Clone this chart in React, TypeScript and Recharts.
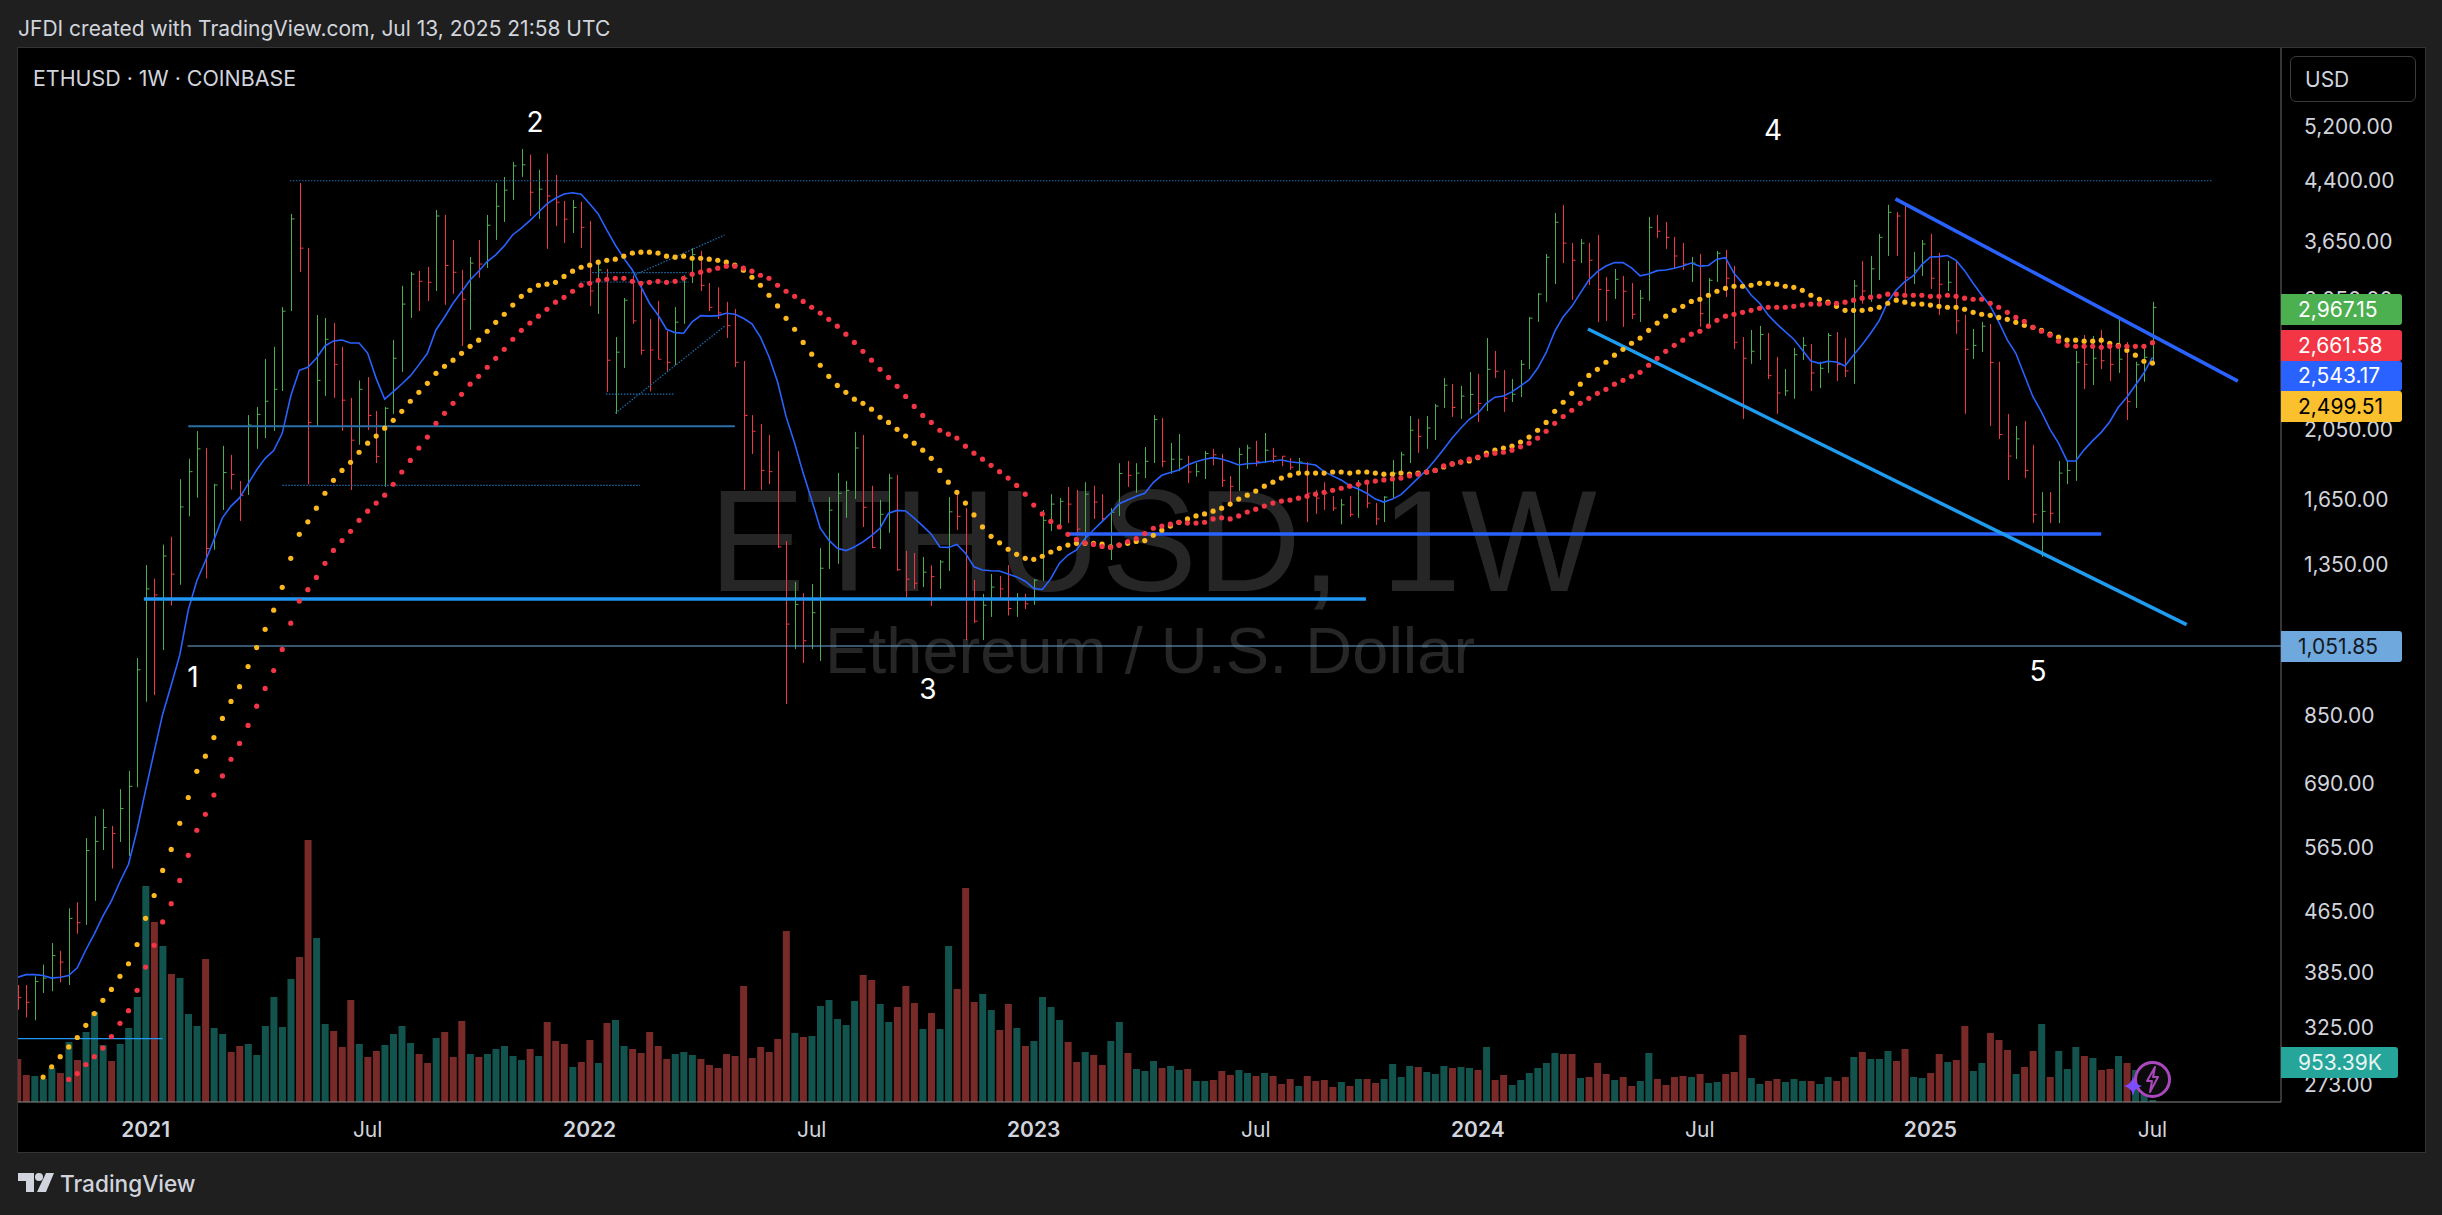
import { Bar, ComposedChart, Line, ReferenceLine, XAxis, YAxis } from "recharts";

const highs = [
  369,369,379,393,420,410,467,476,580,620,
  634,602,674,713,1009,1343,1288,1430,1465,1749,
  1863,2028,1926,1724,1938,1885,1740,2130,2184,2532,
  2628,2970,3955,4350,3563,2898,2872,2828,2628,2246,
  2370,2395,2157,2184,2684,3170,3309,3319,3360,4004,
  3943,3651,3329,3465,3651,3943,4350,4432,4640,4830,
  4745,4529,4760,4460,4117,4130,4105,3871,3433,3340,
  2708,3054,3268,3178,2862,3027,2760,2970,3275,3558,
  3530,3198,3156,3018,2952,2516,2130,2073,2004,1906,
  1446,1275,1232,1267,1415,1655,1783,1740,2023,2004,
  1714,1641,1778,1772,1403,1394,1377,1342,1364,1655,
  1676,1600,1283,1229,1307,1299,1343,1232,1229,1286,
  1591,1670,1651,1708,1692,1733,1714,1670,1600,1837,
  1850,1837,1931,2130,2111,1955,2010,1880,1838,1908,
  1920,1890,1766,1926,1944,1968,2016,1926,1878,1867,
  1867,1844,1692,1733,1660,1646,1660,1745,1733,1626,
  1660,1855,1903,2124,2105,2124,2205,2388,2344,2330,
  2432,2418,2700,2595,2447,2380,2524,2880,3102,3497,
  3967,4067,3617,3662,3617,3707,3258,3340,3268,3198,
  3130,3919,3943,3858,3685,3617,3465,3497,3248,3530,
  3541,3370,2708,2768,2803,2742,2548,2454,2620,2708,
  2650,2510,2742,2750,2700,3228,3422,3476,3720,4067,
  3978,4080,3520,3651,3720,3510,3422,3411,2900,2776,
  2837,2820,2510,2138,2060,2092,1944,1681,1681,1850,
  1855,2595,2725,2717,2768,2660,2862,2667,2510,2620,3018,
];

const lows = [
  342,334,331,360,362,372,369,432,444,478,
  559,528,573,549,678,882,900,1034,1186,1264,
  1560,1652,1289,1408,1591,1694,1538,1666,1920,1985,
  2029,2294,2934,3309,1722,2060,2260,2246,2029,1692,
  1944,2035,1838,1708,2138,2432,2872,2934,3027,3120,
  2990,3093,2635,2768,3250,3350,3651,3859,4130,4432,
  3932,3895,3552,3810,3617,3730,3563,2980,2908,2288,
  2138,2462,2820,2564,2291,2530,2432,2485,2820,3198,
  3120,2934,2862,2700,2470,1692,1890,1692,1722,1415,
  876,1037,994,1037,1000,1327,1348,1553,1646,1510,
  1415,1411,1483,1319,1217,1248,1255,1184,1248,1319,
  1496,1066,1124,1066,1145,1210,1150,1145,1173,1188,
  1279,1491,1505,1528,1478,1450,1548,1533,1364,1562,
  1708,1678,1755,1838,1815,1778,1793,1728,1763,1750,
  1825,1708,1606,1687,1805,1820,1838,1838,1820,1799,
  1789,1533,1572,1591,1586,1522,1558,1553,1601,1519,
  1533,1651,1772,1838,1897,1920,1973,2177,2118,2105,
  2138,2085,2157,2388,2151,2218,2252,2454,2837,3018,
  3188,3400,3036,3400,3178,2837,2846,3045,2795,2862,
  2837,3027,3673,3552,3340,3329,3208,2795,2803,3208,
  3064,2611,2105,2494,2524,2380,2138,2260,2240,2524,
  2294,2315,2425,2366,2395,2345,3000,3018,3228,3476,
  3476,3080,3188,3268,3140,2898,3120,2735,2138,2532,
  2587,2060,1979,1745,1861,1755,1528,1377,1528,1528,
  1722,1740,2308,2337,2454,2366,2425,2098,2177,2360,2505,
];

const closes = [
  355,350,373,377,404,396,453,447,558,574,
  599,588,635,680,973,1248,1225,1381,1306,1606,
  1790,1920,1413,1718,1785,1775,1664,2066,2135,2223,
  2306,2932,3895,3560,2083,2370,2690,2490,2230,1972,
  2306,2128,1876,2175,2537,2997,3286,3215,3205,3930,
  3375,3305,3042,3400,3390,3820,4050,4255,4585,4600,
  4228,4268,4180,4100,3892,4035,3795,3121,3329,2522,
  2585,3033,2846,2600,2603,2530,2506,2835,3245,3490,
  3175,2968,2917,2805,2506,2128,2027,1797,1790,1420,
  1120,1190,1064,1160,1330,1590,1675,1690,1925,1604,
  1418,1570,1755,1324,1286,1270,1314,1296,1356,1582,
  1560,1212,1130,1187,1255,1248,1175,1212,1192,1282,
  1541,1620,1634,1620,1500,1670,1630,1550,1580,1780,
  1770,1782,1848,2102,1848,1860,1860,1788,1790,1893,
  1885,1743,1711,1888,1925,1848,1912,1877,1877,1815,
  1844,1675,1650,1675,1600,1616,1570,1722,1625,1548,
  1655,1782,1885,2033,1995,2047,2190,2335,2181,2258,
  2270,2208,2452,2438,2243,2271,2490,2870,3090,3462,
  3855,3615,3430,3615,3430,3136,3127,3235,3118,2905,
  3052,3795,3750,3680,3475,3390,3400,2910,3225,3505,
  3245,2665,2537,2592,2730,2405,2280,2295,2565,2640,
  2425,2460,2722,2490,2440,3170,3120,3340,3680,3975,
  3930,3255,3326,3605,3245,3186,3205,2846,2608,2640,
  2800,2505,2007,1878,1980,1797,1570,1584,1575,1782,
  1797,2506,2490,2537,2518,2490,2530,2220,2487,2545,2967.15,
];

// U = up week, D = down week, ten weeks per chunk
const directions = [
  "DDUUUDUDUU","UDUUUUDUDU","UUDUUDDUUU","UUUDDUUDDD","UDDUUUUDDU",
  "DDDUDUUUUU","DUDDDUDDUD","UUDDDDDUUU","DDDDDDDDDD","DUDUUUUUUD",
  "DUUDDDUDUU","DDDUUDDUDU","UUUDDUDDUU","DUUUDUUDUU","DDDUUDUDDD",
  "UDDDDUDUDD","UUUUDUUUDU","UDUDDUUUUU","UDDUDDDUDD","UUDDDDUDUU",
  "DDDUUDDUUU","DUUDDUDUUU","DDUUDDUDDU","UDDDUDDUDU","UUDUDDUDUUU",
].join("");

// thousands of ETH
const volumes = [
  1032,648,624,552,816,696,1440,1008,1680,2160,
  1368,984,1392,1776,2520,5184,4320,3744,3072,2976,
  2112,1824,3432,1776,1632,1200,1344,1392,1128,1824,
  2520,1800,2952,3480,6288,3936,1872,1704,1320,2448,
  1392,1080,1224,1368,1632,1824,1416,1152,936,1536,
  1680,1080,1944,1152,1080,1152,1272,1344,1104,1008,
  1272,1104,1920,1464,1392,840,960,1488,936,1896,
  1968,1344,1272,1176,1680,1344,1032,1152,1200,1128,
  1032,888,816,1152,1104,2784,1056,1320,1200,1512,
  4104,1656,1560,1584,2304,2448,1992,1848,2424,3048,
  2928,2352,1920,2280,2784,2376,1752,2136,1752,3744,
  2712,5136,2400,2592,2208,1728,2352,1776,1344,1464,
  2520,2280,1968,1440,960,1200,1128,888,1464,1920,
  1176,792,744,984,816,864,768,792,504,504,
  528,744,648,768,696,624,696,624,432,552,
  384,624,504,528,360,480,384,552,552,456,
  552,912,600,864,840,720,672,864,816,840,
  816,768,1320,528,648,408,528,696,816,936,
  1176,1152,1152,576,600,936,672,528,600,384,
  504,1176,552,408,600,624,600,672,456,480,
  672,720,1608,576,432,504,552,480,552,504,
  504,432,600,504,600,1080,1200,1032,1032,1224,
  984,1272,600,576,696,1152,960,1008,1824,744,
  936,1656,1488,1248,672,840,1224,1872,600,1224,
  792,1320,1104,1056,768,792,1104,936,768,264,48,
];

const blueAverage = [
  378,381,381,380,377,378,380,389,411,432,
  456,478,507,535,594,672,756,849,928,1018,
  1170,1280,1360,1451,1553,1610,1651,1724,1799,1865,
  1910,2014,2259,2445,2468,2537,2635,2676,2684,2659,
  2659,2578,2385,2237,2289,2344,2403,2486,2576,2768,
  2878,3005,3113,3228,3316,3416,3487,3585,3710,3787,
  3875,3975,4080,4150,4205,4222,4202,4080,3955,3765,
  3595,3451,3329,3162,3005,2898,2774,2745,2740,2838,
  2893,2888,2893,2914,2905,2869,2820,2707,2549,2360,
  2120,1954,1782,1641,1504,1450,1414,1404,1420,1442,
  1470,1504,1575,1589,1586,1552,1515,1477,1420,1418,
  1431,1393,1336,1323,1320,1319,1307,1295,1278,1250,
  1246,1288,1350,1385,1407,1457,1496,1535,1575,1622,
  1641,1659,1675,1731,1770,1785,1799,1827,1845,1860,
  1869,1861,1845,1827,1834,1837,1844,1850,1855,1845,
  1840,1834,1827,1790,1767,1745,1714,1697,1675,1645,
  1630,1645,1668,1710,1755,1799,1855,1918,1985,2046,
  2103,2142,2209,2251,2259,2288,2330,2373,2460,2581,
  2754,2883,2974,3100,3228,3312,3370,3405,3405,3350,
  3270,3288,3322,3329,3347,3370,3400,3368,3375,3441,
  3457,3295,3195,3082,3005,2898,2820,2754,2690,2603,
  2516,2498,2514,2508,2478,2563,2644,2740,2848,3018,
  3130,3212,3270,3385,3465,3468,3480,3428,3322,3195,
  3082,2980,2838,2684,2576,2410,2254,2152,2039,1954,
  1850,1850,1914,1969,2020,2087,2182,2251,2335,2425,2543.17,
];

const yellowAverage = [
  null,null,null,278,287,296,305,314,326,338,
  352,364,379,394,418,453,486,525,560,607,
  657,712,746,790,838,883,924,983,1042,1102,
  1169,1254,1371,1476,1534,1600,1675,1743,1797,1842,
  1900,1954,1997,2046,2096,2155,2223,2285,2349,2422,
  2475,2522,2576,2632,2682,2757,2834,2905,2988,3070,
  3127,3176,3186,3205,3263,3316,3357,3378,3410,3430,
  3441,3473,3505,3516,3516,3505,3473,3462,3473,3451,
  3451,3441,3430,3410,3378,3326,3255,3176,3080,2980,
  2869,2774,2664,2569,2483,2400,2334,2285,2237,2209,
  2169,2116,2083,2039,1997,1954,1912,1865,1797,1733,
  1680,1625,1567,1510,1467,1438,1410,1388,1371,1367,
  1380,1398,1414,1428,1436,1436,1436,1432,1420,1428,
  1436,1444,1448,1472,1495,1514,1532,1548,1562,1572,
  1585,1600,1620,1645,1665,1686,1712,1733,1755,1771,
  1782,1782,1782,1782,1788,1788,1782,1788,1788,1782,
  1776,1776,1782,1776,1782,1788,1797,1816,1833,1844,
  1850,1869,1895,1912,1925,1936,1961,1991,2033,2083,
  2155,2216,2278,2343,2407,2452,2506,2561,2608,2657,
  2700,2765,2827,2888,2940,2977,3022,3042,3080,3118,
  3146,3166,3166,3176,3195,3195,3186,3166,3156,3127,
  3080,3042,3015,2977,2940,2940,2940,2950,2968,3005,
  3033,3015,2997,2997,2988,2977,2968,2968,2950,2922,
  2905,2895,2877,2860,2834,2808,2790,2765,2732,2707,
  2682,2682,2674,2674,2682,2657,2640,2600,2561,2514,2499.51,
];

const redAverage = [
  null,null,null,null,null,null,276,281,289,296,
  304,315,328,341,363,390,417,448,474,509,
  550,594,624,662,702,739,776,820,870,919,
  971,1036,1123,1202,1245,1293,1350,1405,1448,1490,
  1541,1585,1625,1665,1722,1788,1853,1925,1991,2077,
  2142,2209,2271,2343,2400,2468,2537,2608,2690,2765,
  2827,2888,2950,3015,3060,3118,3176,3195,3225,3235,
  3245,3245,3215,3195,3205,3215,3205,3215,3245,3286,
  3306,3326,3347,3368,3368,3347,3316,3275,3245,3176,
  3118,3070,3022,2968,2915,2860,2800,2732,2664,2592,
  2522,2452,2392,2327,2256,2188,2128,2083,2033,2009,
  1985,1936,1895,1860,1825,1790,1755,1716,1670,1615,
  1572,1536,1510,1476,1453,1438,1431,1422,1418,1428,
  1444,1457,1480,1504,1514,1523,1532,1528,1528,1532,
  1548,1553,1548,1562,1581,1595,1610,1625,1635,1640,
  1650,1660,1670,1680,1690,1701,1712,1722,1733,1739,
  1745,1750,1755,1767,1776,1788,1797,1822,1833,1844,
  1860,1872,1884,1895,1900,1912,1932,1954,1985,2027,
  2077,2121,2162,2209,2243,2278,2306,2343,2371,2400,
  2430,2483,2537,2592,2640,2682,2732,2757,2800,2851,
  2888,2905,2922,2940,2959,2968,2968,2968,2977,2988,
  2997,2997,3005,3005,3015,3033,3052,3062,3070,3090,
  3090,3080,3080,3080,3070,3070,3080,3070,3052,3042,
  3042,3005,2968,2922,2877,2842,2790,2757,2724,2674,
  2640,2632,2632,2632,2624,2632,2632,2632,2632,2632,2661.58,
];

const priceTicks = [5200, 4400, 3650, 3050, 2050, 1650, 1350, 850, 690, 565, 465, 385, 325, 273];
const timeTicks = [15, 41, 67, 93, 119, 145, 171, 197, 224, 250];
const timeLabels = ["2021", "Jul", "2022", "Jul", "2023", "Jul", "2024", "Jul", "2025", "Jul"];

// drawn trend lines and levels: [week, price] to [week, price]
const solidThin = [
  { from: [20, 2059], to: [84, 2059], color: "#2a6fa8", width: 2 },
  { from: [19.9, 1047], to: [265.05, 1047], color: "#6fa8dc", width: 1.2 },
  { from: [0.06, 313], to: [17, 313], color: "#2196f3", width: 1.2 },
];
const solidThick = [
  { from: [14.8, 1210], to: [157.9, 1210], color: "#2196f3", width: 3.5 },
  { from: [122.8, 1478], to: [244, 1478], color: "#2962ff", width: 3.5 },
  { from: [183.9, 2776], to: [254, 1118], color: "#1e9cf0", width: 3.5 },
  { from: [219.9, 4142], to: [260, 2365], color: "#2962ff", width: 3.5 },
];
const dotted = [
  { from: [31.9, 4380], to: [257, 4380] },
  { from: [31, 1716], to: [72.9, 1716] },
  { from: [67.3, 3302], to: [78.6, 3302] },
  { from: [65.9, 3208], to: [78.6, 3208] },
  { from: [68.9, 2272], to: [76.8, 2272] },
  { from: [72.1, 3272], to: [82.8, 3707] },
  { from: [70, 2143], to: [82.8, 2800] },
];

const waveLabels = [
  { text: "1", left: 193, top: 677 },
  { text: "2", left: 535, top: 122 },
  { text: "3", left: 928, top: 689 },
  { text: "4", left: 1773, top: 130 },
  { text: "5", left: 2038, top: 671 },
];

const badges = [
  { text: "2,967.15", top: 294, height: 31, width: 121, background: "#4caf50", color: "#ffffff" },
  { text: "2,661.58", top: 330, height: 31, width: 121, background: "#f23645", color: "#ffffff" },
  { text: "2,543.17", top: 361, height: 30, width: 121, background: "#2962ff", color: "#ffffff" },
  { text: "2,499.51", top: 391, height: 31, width: 121, background: "#fbc02d", color: "#000000" },
  { text: "1,051.85", top: 631, height: 31, width: 121, background: "#6fa8dc", color: "#131722" },
  { text: "953.39K", top: 1047, height: 31, width: 117, background: "#26a69a", color: "#e8f5f3" },
];

const UI_FONT = "Inter, Roboto, sans-serif";
const GREEN = "#4caf50";
const RED = "#f23645";

const weeks = highs.map((high, i) => ({
  week: i,
  range: [lows[i], high],
  close: closes[i],
  up: directions[i] === "U",
  volume: volumes[i],
  blue: blueAverage[i],
  yellow: yellowAverage[i],
  red: redAverage[i],
}));

const HlcBar = ({ x, y, width, height, payload }: any) => {
  const [low, high] = payload.range;
  const color = payload.up ? GREEN : RED;
  const cx = Math.round(x + width / 2) + 0.5;
  const closeY = y + (Math.log(high / payload.close) / Math.log(high / low)) * height;
  return (
    <g stroke={color} strokeWidth={1}>
      <line x1={cx} x2={cx} y1={y} y2={y + height} />
      <line x1={cx} x2={cx + 3} y1={closeY} y2={closeY} />
    </g>
  );
};

const VolumeBar = ({ x, y, width, height, payload }: any) => (
  <rect x={x} y={y} width={width} height={height} fill={payload.up ? "#13534d" : "#782a29"} />
);

const TimeTick = ({ x, y, payload }: any) => {
  const label = timeLabels[timeTicks.indexOf(payload.value)];
  return (
    <text x={x} y={y + 27} textAnchor="middle" fontFamily={UI_FONT} fontSize={21}
      fontWeight={label === "Jul" ? 400 : 600} fill="#d1d4dc">
      {label}
    </text>
  );
};

const segmentOf = (s: { from: number[]; to: number[] }) => [
  { x: s.from[0], y: s.from[1] },
  { x: s.to[0], y: s.to[1] },
];

const absoluteText = (left: number, top: number, size: number, color: string) => ({
  position: "absolute" as const,
  left,
  top,
  fontSize: size,
  color,
  fontFamily: UI_FONT,
  lineHeight: 1,
  whiteSpace: "nowrap" as const,
});

const App = () => (
  <div style={{ position: "absolute", left: 0, top: 0, width: 2442, height: 1215, background: "#1f1f1f", overflow: "hidden" }}>
    <div style={absoluteText(18, 18, 21, "#d1d4dc")}>JFDI created with TradingView.com, Jul 13, 2025 21:58 UTC</div>

    <div style={{ position: "absolute", left: 17, top: 47, width: 2407, height: 1104, background: "#000", border: "1.5px solid #333" }} />

    <div style={{ ...absoluteText(1153, 462, 144, "#262626"), transform: "translateX(-50%)", fontFamily: "'Liberation Sans', sans-serif", lineHeight: "160px" }}>
      ETHUSD, 1W
    </div>
    <div style={{ ...absoluteText(1150, 615, 65, "#262626"), transform: "translateX(-50%)", fontFamily: "'Liberation Sans', sans-serif", lineHeight: "72px" }}>
      Ethereum / U.S. Dollar
    </div>

    <div style={{ position: "absolute", left: 0, top: 0 }}>
      <ComposedChart width={2442} height={1215} data={weeks} margin={{ top: 48, right: 18, bottom: 64, left: 18 }}>
        <XAxis xAxisId="price" dataKey="week" type="number" domain={[0.06, 265.05]} allowDataOverflow
          ticks={timeTicks} interval={0} height={49} tickLine={false} stroke="#8a8a8a" tick={<TimeTick />} />
        <XAxis xAxisId="volume" dataKey="week" type="number" domain={[0.06, 265.05]} allowDataOverflow hide />
        <YAxis yAxisId="price" orientation="right" type="number" scale="log" domain={[257.5, 6589]} allowDataOverflow
          ticks={priceTicks} interval={0} width={143} tickLine={false} tickMargin={17} stroke="#6a6a6a"
          tickFormatter={(v: number) => v.toLocaleString("en-US", { minimumFractionDigits: 2 })}
          tick={{ fill: "#d1d4dc", fontSize: 21, fontFamily: UI_FONT, dy: 1.5 }} />
        <YAxis yAxisId="volume" type="number" domain={[0, 25296]} allowDataOverflow hide />

        <Bar xAxisId="volume" yAxisId="volume" dataKey="volume" barSize={7} shape={VolumeBar} isAnimationActive={false} />
        <Bar xAxisId="price" yAxisId="price" dataKey="range" barSize={7} shape={HlcBar} isAnimationActive={false} />

        <Line xAxisId="price" yAxisId="price" dataKey="blue" stroke="#2962ff" strokeWidth={1.6} dot={false} activeDot={false} isAnimationActive={false} />
        <Line xAxisId="price" yAxisId="price" dataKey="yellow" stroke="none" activeDot={false} isAnimationActive={false}
          dot={{ r: 2.6, fill: "#fbb81f", stroke: "none" }} />
        <Line xAxisId="price" yAxisId="price" dataKey="red" stroke="none" activeDot={false} isAnimationActive={false}
          dot={{ r: 2.6, fill: "#f23645", stroke: "none" }} />

        {dotted.map((s, i) => (
          <ReferenceLine key={`dot-${i}`} xAxisId="price" yAxisId="price" segment={segmentOf(s)} stroke="#1f6fb0" strokeWidth={1.2} strokeDasharray="1.5 1.5" />
        ))}
        {solidThin.map((s, i) => (
          <ReferenceLine key={`thin-${i}`} xAxisId="price" yAxisId="price" segment={segmentOf(s)} stroke={s.color} strokeWidth={s.width} />
        ))}
        {solidThick.map((s, i) => (
          <ReferenceLine key={`thick-${i}`} xAxisId="price" yAxisId="price" segment={segmentOf(s)} stroke={s.color} strokeWidth={s.width} />
        ))}
      </ComposedChart>
    </div>

    <div style={absoluteText(33, 68, 21.4, "#d1d4dc")}>ETHUSD · 1W · COINBASE</div>

    {waveLabels.map((w) => (
      <div key={w.text} style={{ ...absoluteText(w.left, w.top, 28, "#ffffff"), transform: "translate(-50%, -50%)" }}>{w.text}</div>
    ))}

    <div style={{ position: "absolute", left: 2290, top: 56, width: 126, height: 46, boxSizing: "border-box", border: "1.5px solid #3a3a3a", borderRadius: 6, background: "#000" }} />
    <div style={absoluteText(2305, 69, 21, "#d1d4dc")}>USD</div>

    {badges.map((b) => (
      <div key={b.text} style={{
        position: "absolute", left: 2281, top: b.top, width: b.width, height: b.height, background: b.background, color: b.color,
        fontFamily: UI_FONT, fontSize: 21, lineHeight: `${b.height}px`, paddingLeft: 17, boxSizing: "border-box", borderRadius: "0 3px 3px 0",
      }}>
        {b.text}
      </div>
    ))}

    <svg style={{ position: "absolute", left: 2120, top: 1055 }} width={60} height={50} viewBox="0 0 60 50">
      <circle cx={32.5} cy={24.5} r={17} fill="#0b0b0b" stroke="#ab47bc" strokeWidth={3} />
      <path d="M35 12 L27 26 L32 26 L30 37 L38 22 L33 22 Z" fill="none" stroke="#ab47bc" strokeWidth={2} strokeLinejoin="round" />
      <path d="M13 21 Q14 29 22 31 Q14 33 13 41 Q12 33 4 31 Q12 29 13 21 Z" fill="#7c4dff" />
    </svg>

    <svg style={{ position: "absolute", left: 18, top: 1173 }} width={36} height={20} viewBox="0 0 36 20">
      <path d="M0 0 H16 V19 H8 V8 H0 Z" fill="#d1d4dc" />
      <circle cx={21} cy={4} r={4} fill="#d1d4dc" />
      <path d="M28 0 H36 L28 19 H19 Z" fill="#d1d4dc" />
    </svg>
    <div style={{ ...absoluteText(60, 1173, 22.6, "#d1d4dc"), fontWeight: 500 }}>TradingView</div>
  </div>
);

export default App;
